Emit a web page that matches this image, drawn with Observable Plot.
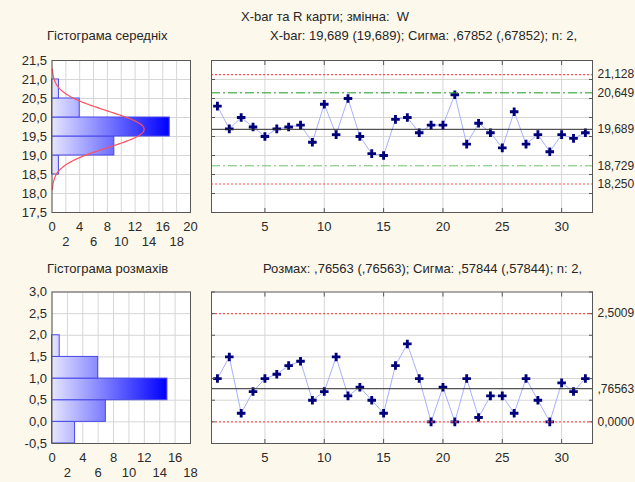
<!DOCTYPE html>
<html><head><meta charset="utf-8">
<script src="https://cdn.jsdelivr.net/npm/d3@7"></script>
<script src="https://cdn.jsdelivr.net/npm/@observablehq/plot@0.6"></script>
<style>
html,body{margin:0;padding:0;background:#fdf8ec;}
#root{position:relative;width:635px;height:482px;overflow:hidden;background:#fdf8ec;font-family:"Liberation Sans",Arial,sans-serif;color:#262626;}
.t{position:absolute;white-space:pre;font-size:13px;line-height:15px;}
.p{position:absolute;}
.p svg{display:block;}
</style></head><body>
<div id="root">
<div class="t" style="left:241px;top:9px">X-bar та R карти; змінна:  W</div>
<div class="t" style="left:47px;top:28px">Гістограма середніх</div>
<div class="t" style="left:270px;top:28px">X-bar: 19,689 (19,689); Сигма: ,67852 (,67852); n: 2,</div>
<div class="t" style="left:47px;top:261px">Гістограма розмахів</div>
<div class="t" style="left:263px;top:261px">Розмах: ,76563 (,76563); Сигма: ,57844 (,57844); n: 2,</div>
<div class="p" id="histTop" style="left:0;top:50px"></div>
<div class="p" id="chartTop" style="left:200px;top:50px"></div>
<div class="p" id="histBot" style="left:0;top:280px"></div>
<div class="p" id="chartBot" style="left:200px;top:280px"></div>
</div>
<script>
// ---- data ----
const sampleNo = d3.range(1, 33);
const xbarMeans = [20.30,19.70,20.00,19.75,19.50,19.70,19.75,19.80,19.35,20.35,19.55,20.50,19.50,19.05,19.00,19.95,
                   20.00,19.60,19.80,19.80,20.60,19.30,19.85,19.60,19.20,20.15,19.30,19.55,19.10,19.55,19.45,19.60];
const ranges = [1.0,1.5,0.2,0.7,1.0,1.1,1.3,1.4,0.5,0.7,1.5,0.6,0.8,0.5,0.2,1.3,
                1.8,1.0,0.0,0.8,0.0,1.0,0.1,0.6,0.6,0.2,1.0,0.5,0.0,0.9,0.7,1.0];
const meanBinStart = [18.5,19.0,19.5,20.0,20.5];
const meanBinCount = [1,9,17,4,1];
const rangeBinStart = [-0.5,0.0,0.5,1.0,1.5];
const rangeBinCount = [3,7,15,6,1];
const binWidth = 0.5;
const xbarCenter = 19.689, xbarSigma = 0.67852, groupSize = 2;
const xbarLimitValues = [21.128,20.649,19.689,18.729,18.250];
const xbarLimitLabels = ["21,128","20,649","19,689","18,729","18,250"];
const rangeLimitValues = [2.5009,0.76563,0];
const rangeLimitLabels = ["2,5009",",76563","0,0000"];
const meanTicks = [17.5,18.0,18.5,19.0,19.5,20.0,20.5,21.0,21.5];
const rangeTicks = [-0.5,0.0,0.5,1.0,1.5,2.0,2.5,3.0];
const rangeChartGrid = [0.5,1.0,1.5,2.0];
const sampleTicks = [5,10,15,20,25,30];
const topHistTicks1 = [0,4,8,12,16,20], topHistTicks2 = [2,6,10,14,18];
const botHistTicks1 = [0,4,8,12,16], botHistTicks2 = [2,6,10,14,18];

const FONT = '"Liberation Sans", Arial, sans-serif';
const GRID = "#d6d6d6", FRAME = "#585858", TXT = "#2a2a2a";
const comma1 = d => d.toFixed(1).replace(".", ",");

function histogram({binStart, binCount, xDomain, yDomain, yTicks, ticks1, ticks2, gradId, extra, height, marginTop, marginBottom}) {
  const rows = binStart.map((s, i) => ({lo: s, hi: s + binWidth, n: binCount[i]}));
  const gridXs = d3.range(xDomain[0], xDomain[1] + 0.001, 2);
  const plot = Plot.plot({
    width: 205, height, marginLeft: 51.5, marginRight: 15, marginTop, marginBottom,
    style: {fontSize: "13px", fontFamily: FONT, background: "transparent", color: TXT, overflow: "visible"},
    x: {domain: xDomain, label: null},
    y: {domain: yDomain, label: null},
    marks: [
      Plot.frame({fill: "white", stroke: "none"}),
      Plot.gridX(gridXs, {stroke: GRID, strokeOpacity: 1}),
      Plot.gridY(yTicks, {stroke: GRID, strokeOpacity: 1}),
      Plot.rectX(rows, {x1: 0, x2: "n", y1: "lo", y2: "hi", fill: `url(#${gradId})`, stroke: "#4848e6", strokeWidth: 1}),
      ...extra,
      Plot.frame({stroke: FRAME}),
      Plot.axisY(yTicks, {anchor: "left", label: null, tickSize: 0, tickPadding: 5, tickFormat: comma1}),
      Plot.axisX(ticks1, {anchor: "bottom", label: null, tickSize: 0, tickPadding: 9, tickFormat: d => String(d)}),
      Plot.axisX(ticks2, {anchor: "bottom", label: null, tickSize: 0, tickPadding: 24, tickFormat: d => String(d)})
    ]
  });
  const xs = plot.scale("x");
  const defs = d3.select(plot).insert("defs", ":first-child");
  const g = defs.append("linearGradient").attr("id", gradId).attr("gradientUnits", "userSpaceOnUse")
    .attr("x1", xs.apply(0)).attr("x2", xs.apply(d3.max(binCount))).attr("y1", 0).attr("y2", 0);
  g.append("stop").attr("offset", 0).attr("stop-color", "#e6e6ff");
  g.append("stop").attr("offset", 1).attr("stop-color", "#0000ff");
  return plot;
}

function controlChart({values, yDomain, yTicks, gridValues, limitValues, limitLabels, lines, height, marginTop, marginBottom}) {
  const labelMap = new Map(limitValues.map((v, i) => [v, limitLabels[i]]));
  const pts = values.map((v, i) => ({s: sampleNo[i], v}));
  return Plot.plot({
    width: 435, height, marginLeft: 11, marginRight: 43, marginTop, marginBottom,
    style: {fontSize: "13px", fontFamily: FONT, background: "transparent", color: TXT},
    x: {domain: [0.5, 32.6], label: null},
    y: {domain: yDomain, label: null},
    marks: [
      Plot.frame({fill: "white", stroke: "none"}),
      Plot.gridY(gridValues, {stroke: GRID, strokeOpacity: 1}),
      Plot.gridX(sampleTicks, {stroke: GRID, strokeOpacity: 1}),
      Plot.line(pts, {x: "s", y: "v", stroke: "#a9b0ff", strokeWidth: 1}),
      Plot.dot(pts, {x: "s", y: "v", symbol: "cross", fill: "#00007a", stroke: "none", r: 3.6}),
      ...lines,
      Plot.frame({stroke: FRAME}),
      Plot.axisY(yTicks, {anchor: "left", label: null, tickSize: -4, stroke: FRAME, tickFormat: () => ""}),
      Plot.axisY(yTicks, {anchor: "right", label: null, tickSize: -4, stroke: FRAME, tickFormat: () => ""}),
      Plot.axisX(sampleTicks, {anchor: "top", label: null, tickSize: -4, stroke: FRAME, tickFormat: () => ""}),
      Plot.axisX(sampleTicks, {anchor: "bottom", label: null, tickSize: -4, stroke: FRAME, tickFormat: () => ""}),
      Plot.axisX(sampleTicks, {anchor: "bottom", label: null, tickSize: 0, tickPadding: 9, tickFormat: d => String(d)}),
      Plot.axisY(limitValues, {anchor: "right", label: null, tickSize: 0, tickPadding: 5, textAnchor: "start", fontSize: 12, tickFormat: d => labelMap.get(d)})
    ]
  });
}

// fitted normal curve for the histogram of means (from the chart's stated mean and sigma)
const sigmaMean = xbarSigma / Math.sqrt(groupSize);
const nSamples = xbarMeans.length;
const normalCurve = d3.range(-3.3, 3.3001, 0.05).map(z => ({
  y: xbarCenter + z * sigmaMean,
  x: nSamples * binWidth * Math.exp(-z * z / 2) / (sigmaMean * Math.sqrt(2 * Math.PI))
}));

document.getElementById("histTop").append(histogram({
  binStart: meanBinStart, binCount: meanBinCount, xDomain: [0, 20], yDomain: [17.5, 21.5], yTicks: meanTicks,
  ticks1: topHistTicks1, ticks2: topHistTicks2, gradId: "gradTop", height: 200, marginTop: 10, marginBottom: 38,
  extra: [Plot.line(normalCurve, {x: "x", y: "y", stroke: "#ff4f5a", strokeWidth: 1.2, curve: "linear"})]
}));

document.getElementById("histBot").append(histogram({
  binStart: rangeBinStart, binCount: rangeBinCount, xDomain: [0, 18], yDomain: [-0.5, 3.0], yTicks: rangeTicks,
  ticks1: botHistTicks1, ticks2: botHistTicks2, gradId: "gradBot", height: 202, marginTop: 11.5, marginBottom: 39,
  extra: []
}));

const RED = "#ff5050";
const redRule = v => Plot.ruleY([v], {stroke: RED, strokeDasharray: "2,2", strokeWidth: 1.1});
document.getElementById("chartTop").append(controlChart({
  values: xbarMeans, yDomain: [17.5, 21.5], yTicks: meanTicks, gridValues: meanTicks,
  limitValues: xbarLimitValues, limitLabels: xbarLimitLabels, height: 200, marginTop: 10, marginBottom: 38,
  lines: [
    redRule(xbarLimitValues[0]),
    redRule(xbarLimitValues[4]),
    Plot.ruleY([xbarLimitValues[1]], {stroke: "#1a9a1a", strokeDasharray: "9,3,2,3", strokeWidth: 1}),
    Plot.ruleY([xbarLimitValues[3]], {stroke: "#6cbf6c", strokeDasharray: "9,3,2,3", strokeWidth: 1}),
    Plot.ruleY([xbarLimitValues[2]], {stroke: "#2a2a2a", strokeWidth: 1})
  ]
}));

document.getElementById("chartBot").append(controlChart({
  values: ranges, yDomain: [-0.5, 3.0], yTicks: rangeTicks, gridValues: rangeChartGrid,
  limitValues: rangeLimitValues, limitLabels: rangeLimitLabels, height: 202, marginTop: 11.5, marginBottom: 39,
  lines: [
    redRule(rangeLimitValues[0]),
    redRule(rangeLimitValues[2]),
    Plot.ruleY([rangeLimitValues[1]], {stroke: "#2a2a2a", strokeWidth: 1})
  ]
}));
</script>
</body></html>
